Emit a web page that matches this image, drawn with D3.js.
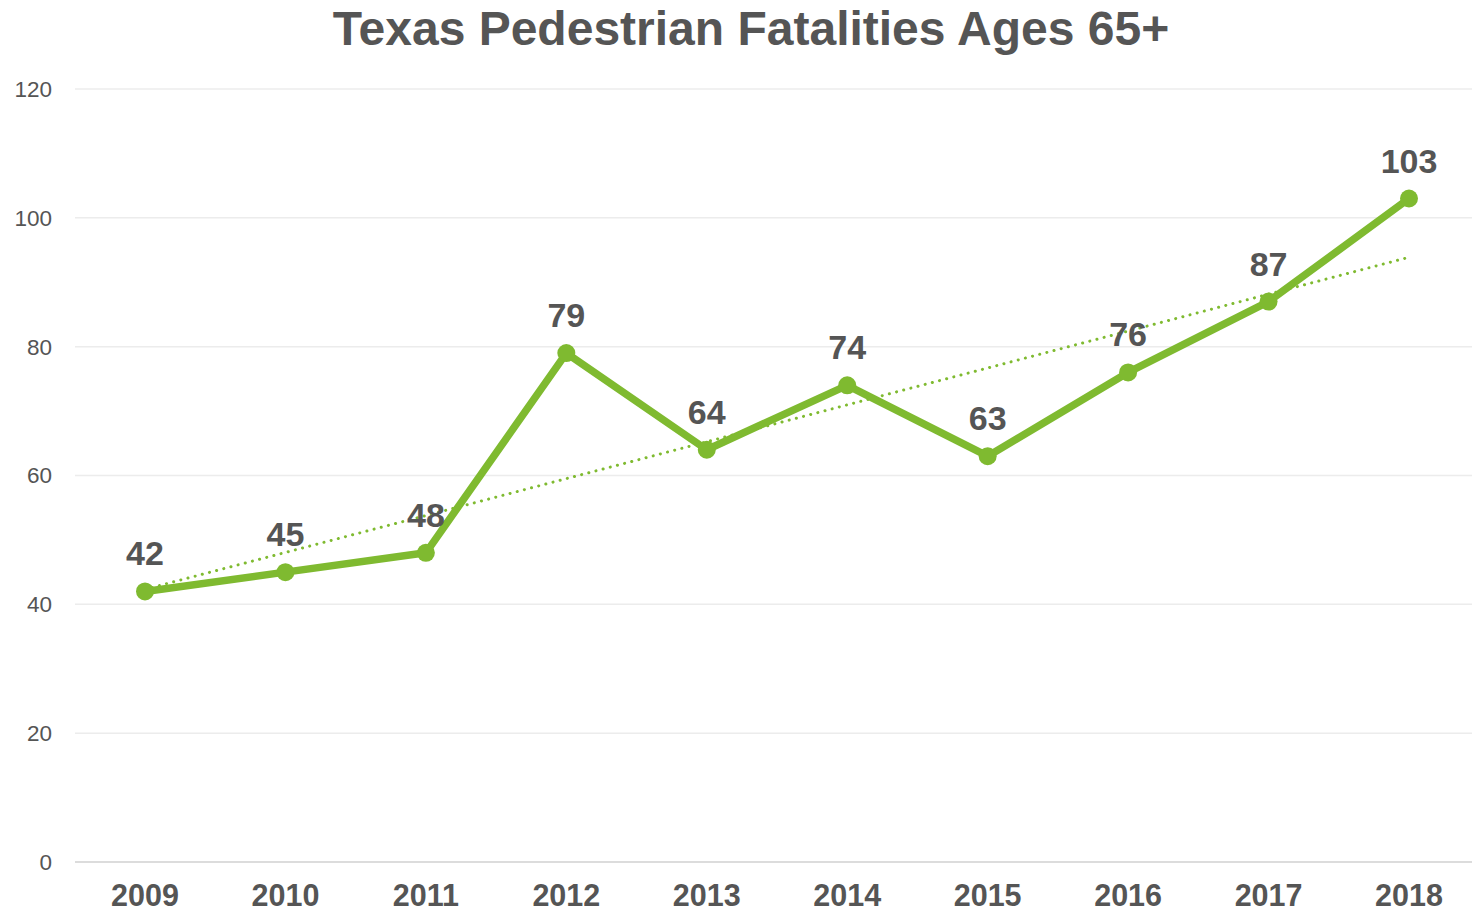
<!DOCTYPE html>
<html><head><meta charset="utf-8">
<script src="https://cdn.jsdelivr.net/npm/d3@7"></script>
<style>body{margin:0;background:#fff}svg{display:block}text{font-family:"Liberation Sans",Arial,sans-serif}</style>
</head><body><svg id="c" width="1472" height="914"></svg>
<script>
const years = ["2009","2010","2011","2012","2013","2014","2015","2016","2017","2018"];
const fatalities = [42,45,48,79,64,74,63,76,87,103];
const yTicks = [0,20,40,60,80,100,120];
const title = "Texas Pedestrian Fatalities Ages 65+";

const svg = d3.select("#c");
const green = "#7fba30", txt = "#555555";
const x = d3.scalePoint().domain(years).range([145,1409]);
const y = d3.scaleLinear().domain([0,120]).range([862,89]);

// gridlines
svg.append("g").selectAll("line").data(yTicks).join("line")
  .attr("x1",75).attr("x2",1472)
  .attr("y1",d=>y(d)).attr("y2",d=>y(d))
  .attr("stroke",d=>d===0?"#dcdcdc":"#ececec").attr("stroke-width",d=>d===0?2:1.5);

// y axis labels
svg.append("g").selectAll("text").data(yTicks).join("text")
  .attr("x",52).attr("y",d=>y(d)).attr("dy","0.35em").attr("text-anchor","end")
  .attr("font-size",22.5).attr("fill",txt).text(d=>d);

// x axis labels
svg.append("g").selectAll("text").data(years).join("text")
  .attr("x",d=>x(d)).attr("y",906).attr("text-anchor","middle")
  .attr("font-size",30.5).attr("font-weight","bold").attr("fill",txt).text(d=>d);

// title
svg.append("text").attr("x",751).attr("y",45).attr("text-anchor","middle")
  .attr("font-size",48).attr("font-weight","bold").attr("fill",txt).text(title);

// linear trendline
const n = fatalities.length;
const xi = d3.range(n);
const mx = d3.mean(xi), my = d3.mean(fatalities);
const slope = d3.sum(xi,i=>(i-mx)*(fatalities[i]-my))/d3.sum(xi,i=>(i-mx)*(i-mx));
const icpt = my - slope*mx;
svg.append("line")
  .attr("x1",x(years[0])).attr("y1",y(icpt))
  .attr("x2",x(years[n-1])).attr("y2",y(icpt+slope*(n-1)))
  .attr("stroke",green).attr("stroke-width",3).attr("stroke-linecap","round")
  .attr("stroke-dasharray","0.1 7.3");

// main line
const data = years.map((yr,i)=>({yr,v:fatalities[i]}));
svg.append("path").datum(data)
  .attr("d",d3.line().x(d=>x(d.yr)).y(d=>y(d.v)))
  .attr("fill","none").attr("stroke",green).attr("stroke-width",7.5).attr("stroke-linejoin","round");

svg.append("g").selectAll("circle").data(data).join("circle")
  .attr("cx",d=>x(d.yr)).attr("cy",d=>y(d.v)).attr("r",9).attr("fill",green);

// labels
svg.append("g").selectAll("text").data(data).join("text")
  .attr("x",d=>x(d.yr)).attr("y",d=>y(d.v)-26).attr("text-anchor","middle")
  .attr("font-size",34).attr("font-weight","bold").attr("fill",txt).text(d=>d.v);
</script></body></html>
